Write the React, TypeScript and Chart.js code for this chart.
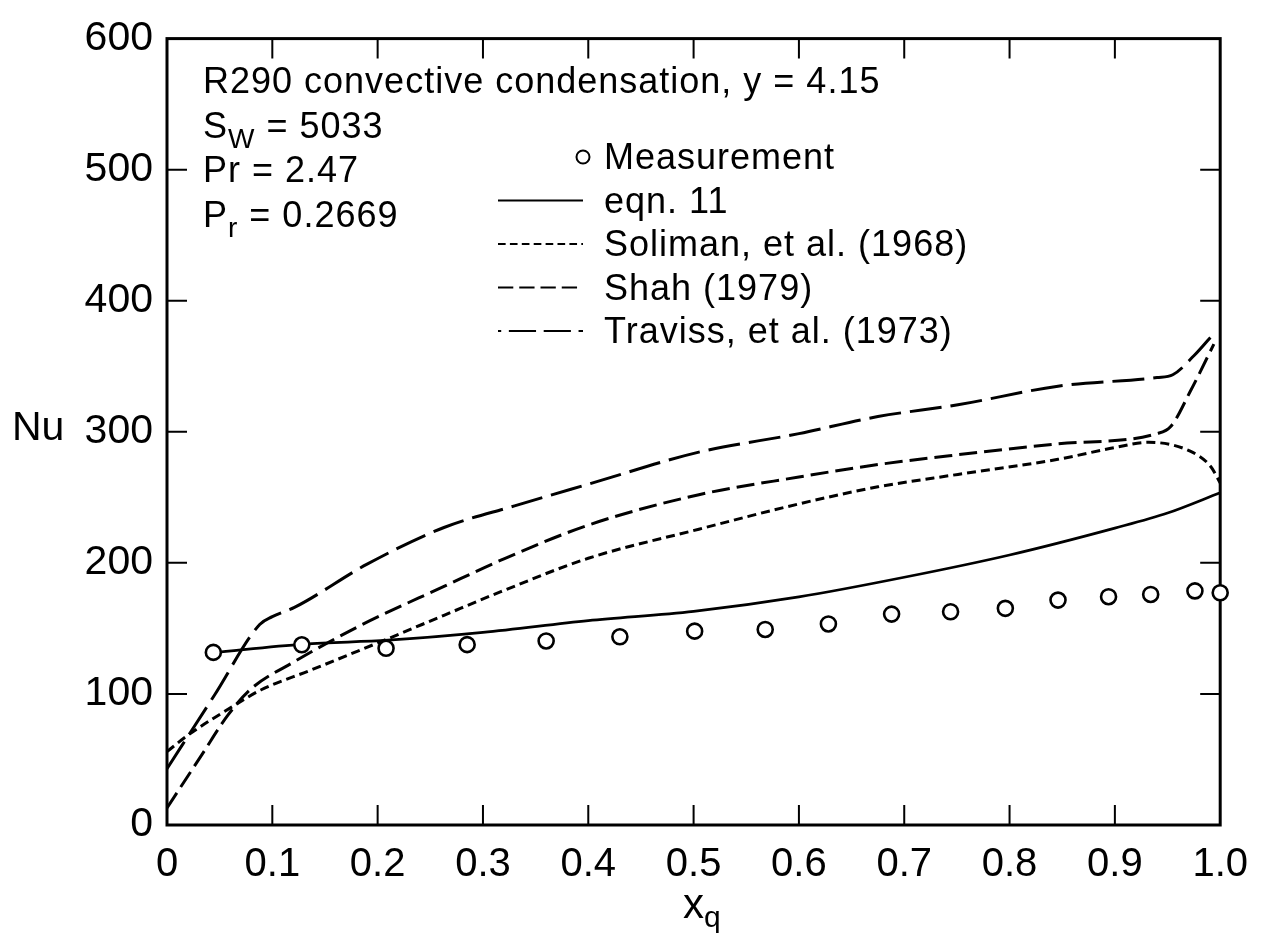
import { useEffect, useRef } from 'react';
import { Chart, registerables } from 'chart.js';

Chart.register(...registerables);

const FONT = '"Liberation Sans", Arial, Helvetica, sans-serif';

// ---- data ----
const xTickLabels = ['0', '0.1', '0.2', '0.3', '0.4', '0.5', '0.6', '0.7', '0.8', '0.9', '1.0'];
const yTickLabels = ['0', '100', '200', '300', '400', '500', '600'];

const measX = [0.044, 0.128, 0.208, 0.285, 0.36, 0.43, 0.501, 0.568, 0.628, 0.688, 0.744, 0.796, 0.846, 0.894, 0.934, 0.976, 1.0];
const measNu = [131.7, 137.5, 134.8, 137.6, 140.4, 143.6, 147.9, 149.2, 153.4, 160.9, 162.7, 165.3, 171.6, 174.2, 175.9, 178.6, 177.2];

const eqnX = [0.044, 0.13, 0.21, 0.3, 0.4, 0.5, 0.6, 0.7, 0.8, 0.9, 0.95, 1.0];
const eqnNu = [131.5, 138, 141, 147, 156, 163, 174, 189, 206, 226.5, 238, 253.5];

const solX = [0, 0.02, 0.067, 0.089, 0.137, 0.21, 0.263, 0.317, 0.4, 0.505, 0.6, 0.675, 0.751, 0.846, 0.9, 0.932, 0.972, 0.991, 1.0];
const solNu = [56, 68.6, 92.7, 103, 118.3, 142.2, 160, 178, 203.5, 225.7, 245, 258, 267.5, 279, 288, 292, 285, 273.5, 261];

const shahX = [0, 0.033, 0.058, 0.08, 0.12, 0.184, 0.263, 0.317, 0.4, 0.505, 0.6, 0.675, 0.751, 0.846, 0.94, 0.953, 0.972, 0.994];
const shahNu = [13, 53.5, 84, 104, 124.2, 152.4, 182, 202, 228.8, 252, 265.5, 275, 282.5, 290.8, 298.6, 304, 331.5, 366.9];

const travX = [0, 0.045, 0.088, 0.1, 0.121, 0.19, 0.263, 0.33, 0.4, 0.505, 0.6, 0.675, 0.751, 0.846, 0.94, 0.955, 0.975, 0.995];
const travNu = [43, 99, 153, 159, 166, 199, 227, 243.5, 260, 284.5, 298.6, 311.6, 320.6, 334.8, 341.4, 343.5, 358, 376];

const seriesLabels = ['Measurement', 'eqn. 11', 'Soliman, et al. (1968)', 'Shah (1979)', 'Traviss, et al. (1973)'];

const annotationLines = [
  [{ t: 'R290 convective condensation, y = 4.15' }],
  [{ t: 'S' }, { t: 'W', sub: true }, { t: ' = 5033' }],
  [{ t: 'Pr = 2.47' }],
  [{ t: 'P' }, { t: 'r', sub: true }, { t: ' = 0.2669' }],
];

const zip = (xs: number[], ys: number[]) => xs.map((x, i) => ({ x, y: ys[i] }));

function drawRich(ctx: CanvasRenderingContext2D, parts: any[], x: number, y: number, size: number, subSize: number, subDy: number) {
  let cx = x;
  for (const p of parts) {
    ctx.font = `${p.sub ? subSize : size}px ${FONT}`;
    ctx.fillText(p.t, cx, p.sub ? y + subDy : y);
    cx += ctx.measureText(p.t).width;
  }
}

const framePlugin = {
  id: 'frame',
  beforeDatasetsDraw(chart: any) {
    const { ctx, chartArea } = chart;
    const { left, right, top, bottom } = chartArea;
    const xs = chart.scales.x;
    const ys = chart.scales.y;
    ctx.save();
    ctx.strokeStyle = '#000';
    ctx.lineWidth = 3;
    ctx.strokeRect(left, top, right - left, bottom - top);
    ctx.lineWidth = 2;
    const TL = 20;
    ctx.beginPath();
    xs.ticks.forEach((t: any) => {
      const px = xs.getPixelForValue(t.value);
      if (px > left + 2 && px < right - 2) {
        ctx.moveTo(px, bottom);
        ctx.lineTo(px, bottom - TL);
        ctx.moveTo(px, top);
        ctx.lineTo(px, top + TL);
      }
    });
    ys.ticks.forEach((t: any) => {
      const py = ys.getPixelForValue(t.value);
      if (py > top + 2 && py < bottom - 2) {
        ctx.moveTo(left, py);
        ctx.lineTo(left + TL, py);
        ctx.moveTo(right, py);
        ctx.lineTo(right - TL, py);
      }
    });
    ctx.stroke();
    ctx.restore();
  },
  afterDraw(chart: any) {
    const { ctx } = chart;
    ctx.save();
    ctx.fillStyle = '#000';
    ctx.textBaseline = 'alphabetic';
    ctx.textAlign = 'left';
    // axis titles
    ctx.font = `41px ${FONT}`;
    ctx.fillText('Nu', 12, 440);
    drawRich(ctx, [{ t: 'x' }, { t: 'q', sub: true }], 683, 918, 42, 30, 9);
    // annotation
    (ctx as any).letterSpacing = '1px';
    annotationLines.forEach((parts, i) => {
      drawRich(ctx, parts, 203, 93 + i * 44.7, 36, 28, 10);
    });
    // legend
    const ds = chart.data.datasets;
    const textX = 604;
    const base0 = 169;
    const step = 43.5;
    const dashOffsets = [0, 0, 0, 0, 24];
    ds.forEach((d: any, i: number) => {
      const baseY = base0 + i * step;
      const midY = baseY - 12;
      ctx.strokeStyle = '#000';
      if (d.showLine === false) {
        ctx.lineWidth = 2;
        ctx.setLineDash([]);
        ctx.beginPath();
        ctx.arc(583, midY, 6.5, 0, Math.PI * 2);
        ctx.stroke();
      } else {
        ctx.lineWidth = 2.2;
        ctx.setLineDash(d.borderDash ? d.borderDash.map((v: number) => v * 0.85) : []);
        ctx.lineDashOffset = dashOffsets[i];
        ctx.beginPath();
        ctx.moveTo(498, midY);
        ctx.lineTo(583, midY);
        ctx.stroke();
      }
      ctx.setLineDash([]);
      ctx.lineDashOffset = 0;
      ctx.font = `36px ${FONT}`;
      ctx.fillText(d.label, textX, baseY);
    });
    ctx.restore();
  },
};

export default function App() {
  const ref = useRef<HTMLCanvasElement | null>(null);
  useEffect(() => {
    if (!ref.current) return;
    const lineBase = {
      type: 'line' as const,
      pointRadius: 0,
      borderColor: '#000',
      borderWidth: 3,
      fill: false,
      cubicInterpolationMode: 'monotone' as const,
    };
    const chart = new Chart(ref.current, {
      type: 'line',
      data: {
        datasets: [
          {
            label: seriesLabels[0],
            data: zip(measX, measNu),
            showLine: false,
            pointRadius: 7.5,
            pointBorderWidth: 2.6,
            pointBorderColor: '#000',
            pointBackgroundColor: '#fff',
            borderColor: '#000',
            backgroundColor: '#fff',
            clip: false,
          } as any,
          { ...lineBase, label: seriesLabels[1], data: zip(eqnX, eqnNu), borderWidth: 2.7 },
          { ...lineBase, label: seriesLabels[2], data: zip(solX, solNu), borderDash: [9, 5] },
          { ...lineBase, label: seriesLabels[3], data: zip(shahX, shahNu), borderDash: [18, 7] },
          { ...lineBase, label: seriesLabels[4], data: zip(travX, travNu), borderDash: [32, 9] },
        ],
      },
      options: {
        animation: false,
        responsive: false,
        devicePixelRatio: 1,
        layout: { padding: { top: 32, right: 42, left: 0, bottom: 0 } },
        plugins: { legend: { display: false }, tooltip: { enabled: false } },
        scales: {
          x: {
            type: 'linear',
            min: 0,
            max: 1,
            ticks: {
              stepSize: 0.1,
              autoSkip: false,
              maxRotation: 0,
              color: '#000',
              font: { family: FONT, size: 40 },
              padding: 16,
              callback: (_v: any, i: number) => xTickLabels[i],
            },
            grid: { display: false, drawTicks: false },
            border: { display: false },
            afterFit: (s: any) => {
              s.height = 111;
            },
          },
          y: {
            min: 0,
            max: 600,
            ticks: {
              stepSize: 100,
              color: '#000',
              font: { family: FONT, size: 41 },
              padding: 14,
              callback: (_v: any, i: number) => yTickLabels[i],
            },
            grid: { display: false, drawTicks: false },
            border: { display: false },
            afterFit: (s: any) => {
              s.width = 167;
            },
          },
        },
      },
      plugins: [framePlugin],
    });
    return () => chart.destroy();
  }, []);
  return (
    <div style={{ position: 'absolute', left: 0, top: 0, width: 1264, height: 936, background: '#fff' }}>
      <canvas ref={ref} width={1264} height={936} />
    </div>
  );
}
